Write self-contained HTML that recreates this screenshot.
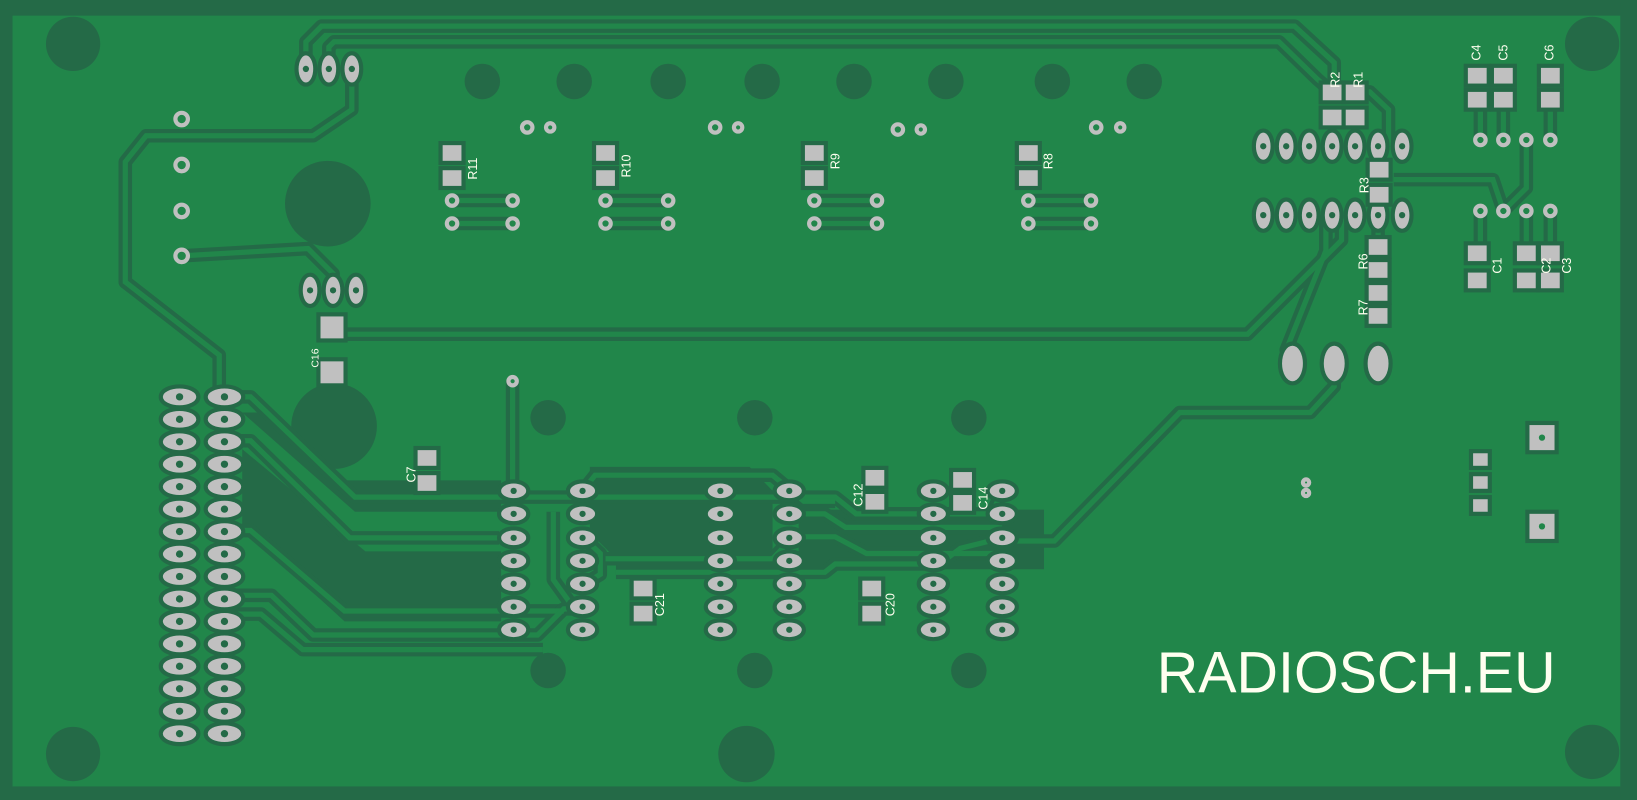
<!DOCTYPE html>
<html><head><meta charset="utf-8"><style>
html,body{margin:0;padding:0;background:#246a47;}
svg{display:block;}
text{font-family:"Liberation Sans",sans-serif;fill:#fffff0;}
.s{font-size:12px;}
</style></head><body>
<svg width="1637" height="800" viewBox="0 0 1568 766" preserveAspectRatio="none" xmlns="http://www.w3.org/2000/svg">
<defs>
<g id="tr">
<path d="M293,66 L293,40 L308,25 L1240,25 L1278,60 L1278,88"/>
<path d="M315,66 L315,45 L320,40 L1225,40 L1262,76 L1276,88"/>
<path d="M337,66 L337,105 L300,130 L140,130 L120,155 L120,270 L210,340 L210,380"/>
<path d="M174,245 L295,238 L319,262 L319,278"/>
<path d="M318,314 L318,320 L1195,320 L1285,230 L1285,206"/>
<path d="M1278,348 L1278,370 L1255,395 L1130,395 L1010,518 L960,518"/>
<path d="M491,365 L491,470"/>
<path d="M1298,88 L1312,88 L1330,105 L1330,140"/>
<path d="M1321,162 L1321,140"/>
<path d="M1335,172 L1430,172 L1440,202"/>
<path d="M1462,134 L1462,180 L1440,202"/>
<path d="M1418,134 L1418,95 M1440,134 L1440,95 M1485,134 L1485,95"/>
<path d="M1418,202 L1418,242 M1462,202 L1462,242 M1485,202 L1485,242"/>
<path d="M1320,206 L1320,236"/>
<path d="M1270,206 L1270,240 L1232,335 L1238,348"/>
<path d="M433,192 L491,192 M433,214 L491,214"/>
<path d="M580,192 L640,192 M580,214 L640,214"/>
<path d="M780,192 L840,192 M780,214 L840,214"/>
<path d="M985,192 L1045,192 M985,214 L1045,214"/>
<path d="M215,380 L240,380 L340,476 L800,476 L820,492 L950,492 L960,470"/>
<path d="M215,422 L240,422 L335,515 L478,515"/>
<path d="M215,508 L240,508 L330,585 L540,585"/>
<path d="M215,570 L260,570 L300,608 L515,608 L540,583 L558,583"/>
<path d="M215,588 L250,588 L290,622 L520,622"/>
<path d="M558,470 L570,455 L740,455 L770,480 L800,480"/>
<path d="M558,514 L575,530 L575,550 L558,560"/>
<path d="M530,490 L530,555 L548,580"/>
<path d="M580,535 L740,535 L760,514 L800,514 L830,530 L960,530"/>
<path d="M590,548 L790,548 L800,540 L900,540 L920,525 L960,515"/>
<path d="M756,492 L790,492 L810,505 L960,505"/>
</g>
<g id="op"><ellipse cx="0" cy="0" rx="16" ry="8" fill="#c0c0c0" stroke="#246a47" stroke-width="8" paint-order="stroke"/><circle r="3.5" fill="#246a47"/></g>
<g id="ip"><ellipse cx="0" cy="0" rx="12" ry="7" fill="#c0c0c0" stroke="#246a47" stroke-width="8" paint-order="stroke"/><circle r="3" fill="#246a47"/></g>
<g id="vp"><ellipse cx="0" cy="0" rx="7" ry="13" fill="#c0c0c0" stroke="#246a47" stroke-width="8" paint-order="stroke"/><circle r="3" fill="#246a47"/></g>
<g id="ic">
<use href="#ip" y="470"/><use href="#ip" y="492"/><use href="#ip" y="515"/><use href="#ip" y="537"/><use href="#ip" y="559"/><use href="#ip" y="581"/><use href="#ip" y="603"/>
</g>
<g id="hd">
<use href="#vp" x="1210"/><use href="#vp" x="1232"/><use href="#vp" x="1254"/><use href="#vp" x="1276"/><use href="#vp" x="1298"/><use href="#vp" x="1320"/><use href="#vp" x="1343"/>
</g>
<g id="row"><use href="#op" x="172"/><use href="#op" x="215"/></g>
</defs>
<rect x="0" y="0" width="1568" height="766" fill="#246a47"/>
<rect x="12" y="15" width="1540" height="738" fill="#21864a"/>
<g fill="#246a47">
<polygon points="232,430 350,528 480,528 480,595 330,595 232,505"/>
<polygon points="565,447 718,447 740,470 740,535 590,535 565,510"/>
<polygon points="765,488 1000,488 1000,545 765,545"/>
<polygon points="232,395 260,395 330,460 480,460 480,490 340,490 232,395"/>
</g>
<g fill="#246a47">
<circle cx="70" cy="42" r="26"/><circle cx="1525" cy="42" r="26"/>
<circle cx="70" cy="722" r="26"/><circle cx="1525" cy="720" r="26"/>
<circle cx="314" cy="195" r="41"/><circle cx="320" cy="408" r="41"/>
<circle cx="715" cy="722" r="27"/>
<circle cx="462" cy="78" r="17"/><circle cx="550" cy="78" r="17"/><circle cx="640" cy="78" r="17"/><circle cx="730" cy="78" r="17"/>
<circle cx="818" cy="78" r="17"/><circle cx="906" cy="78" r="17"/><circle cx="1008" cy="78" r="17"/><circle cx="1096" cy="78" r="17"/>
<circle cx="525" cy="400" r="17"/><circle cx="723" cy="400" r="17"/><circle cx="928" cy="400" r="17"/>
<circle cx="525" cy="642" r="17"/><circle cx="723" cy="642" r="17"/><circle cx="928" cy="642" r="17"/>
</g>
<use href="#tr" stroke="#246a47" stroke-width="13" fill="none" stroke-linejoin="round"/>
<use href="#tr" stroke="#21864a" stroke-width="5" fill="none"/>
<use href="#row" y="380"/><use href="#row" y="401.5"/><use href="#row" y="423"/><use href="#row" y="444.5"/>
<use href="#row" y="466"/><use href="#row" y="487.5"/><use href="#row" y="509"/><use href="#row" y="530.5"/>
<use href="#row" y="552"/><use href="#row" y="573.5"/><use href="#row" y="595"/><use href="#row" y="616.5"/>
<use href="#row" y="638"/><use href="#row" y="659.5"/><use href="#row" y="681"/><use href="#row" y="702.5"/>
<use href="#ic" x="492"/><use href="#ic" x="558"/><use href="#ic" x="690"/><use href="#ic" x="756"/><use href="#ic" x="894"/><use href="#ic" x="960"/>
<use href="#vp" x="293" y="66"/><use href="#vp" x="315" y="66"/><use href="#vp" x="337" y="66"/>
<use href="#vp" x="297" y="278"/><use href="#vp" x="319" y="278"/><use href="#vp" x="341" y="278"/>
<use href="#hd" y="140"/><use href="#hd" y="206"/>
<g fill="#c0c0c0" stroke="#246a47" stroke-width="8" paint-order="stroke">
<ellipse cx="1238" cy="348" rx="10" ry="17"/><ellipse cx="1278" cy="348" rx="10" ry="17"/><ellipse cx="1320" cy="348" rx="10" ry="17"/>
<rect x="1267" y="81" width="18" height="15"/><rect x="1289" y="81" width="18" height="15"/>
<rect x="1267" y="105" width="18" height="15"/><rect x="1289" y="105" width="18" height="15"/>
<rect x="1312" y="155" width="18" height="15"/><rect x="1312" y="179" width="18" height="15"/>
<rect x="1311" y="229" width="18" height="15"/><rect x="1311" y="251" width="18" height="15"/>
<rect x="1311" y="273" width="18" height="15"/><rect x="1311" y="295" width="18" height="15"/>
<rect x="1406" y="65" width="18" height="15"/><rect x="1431" y="65" width="18" height="15"/><rect x="1476" y="65" width="18" height="15"/>
<rect x="1406" y="88" width="18" height="15"/><rect x="1431" y="88" width="18" height="15"/><rect x="1476" y="88" width="18" height="15"/>
<rect x="1406" y="235" width="18" height="15"/><rect x="1453" y="235" width="18" height="15"/><rect x="1476" y="235" width="18" height="15"/>
<rect x="1406" y="261" width="18" height="15"/><rect x="1453" y="261" width="18" height="15"/><rect x="1476" y="261" width="18" height="15"/>
<rect x="424" y="139" width="18" height="15"/><rect x="424" y="163" width="18" height="15"/>
<rect x="571" y="139" width="18" height="15"/><rect x="571" y="163" width="18" height="15"/>
<rect x="771" y="139" width="18" height="15"/><rect x="771" y="163" width="18" height="15"/>
<rect x="976" y="139" width="18" height="15"/><rect x="976" y="163" width="18" height="15"/>
<rect x="307" y="303" width="22" height="21"/><rect x="307" y="346" width="22" height="21"/>
<rect x="400" y="431" width="18" height="15"/><rect x="400" y="455" width="18" height="15"/>
<rect x="829" y="450" width="18" height="15"/><rect x="829" y="473" width="18" height="15"/>
<rect x="913" y="452" width="18" height="15"/><rect x="913" y="474" width="18" height="15"/>
<rect x="607" y="556" width="18" height="15"/><rect x="607" y="580" width="18" height="15"/>
<rect x="826" y="556" width="18" height="15"/><rect x="826" y="580" width="18" height="15"/>
<rect x="1465" y="407" width="24" height="24"/><rect x="1465" y="492" width="24" height="24"/>
<rect x="1411" y="434" width="14" height="12"/><rect x="1411" y="456" width="14" height="12"/><rect x="1411" y="478" width="14" height="12"/>
</g>
<g fill="#21864a">
<circle cx="1477" cy="419" r="3"/><circle cx="1477" cy="504" r="3"/>
</g>
<g fill="#21864a" stroke="#c0c0c0" stroke-width="4">
<circle cx="174" cy="114" r="6"/><circle cx="174" cy="158" r="6"/><circle cx="174" cy="202" r="6"/><circle cx="174" cy="245" r="6"/>
<circle cx="433" cy="192" r="5"/><circle cx="491" cy="192" r="5"/><circle cx="433" cy="214" r="5"/><circle cx="491" cy="214" r="5"/>
<circle cx="580" cy="192" r="5"/><circle cx="640" cy="192" r="5"/><circle cx="580" cy="214" r="5"/><circle cx="640" cy="214" r="5"/>
<circle cx="780" cy="192" r="5"/><circle cx="840" cy="192" r="5"/><circle cx="780" cy="214" r="5"/><circle cx="840" cy="214" r="5"/>
<circle cx="985" cy="192" r="5"/><circle cx="1045" cy="192" r="5"/><circle cx="985" cy="214" r="5"/><circle cx="1045" cy="214" r="5"/>
<circle cx="1418" cy="134" r="5"/><circle cx="1440" cy="134" r="5"/><circle cx="1462" cy="134" r="5"/><circle cx="1485" cy="134" r="5"/>
<circle cx="1418" cy="202" r="5"/><circle cx="1440" cy="202" r="5"/><circle cx="1462" cy="202" r="5"/><circle cx="1485" cy="202" r="5"/>
<circle cx="505" cy="122" r="5"/><circle cx="527" cy="122" r="4"/>
<circle cx="685" cy="122" r="5"/><circle cx="707" cy="122" r="4"/>
<circle cx="860" cy="124" r="5"/><circle cx="882" cy="124" r="4"/>
<circle cx="1050" cy="122" r="5"/><circle cx="1073" cy="122" r="4"/>
<circle cx="491" cy="365" r="4"/>
<circle cx="1251" cy="462" r="3"/><circle cx="1251" cy="472" r="3"/>
</g>
<g class="s">
<text transform="translate(457,172) rotate(-90)">R11</text>
<text transform="translate(604,170) rotate(-90)">R10</text>
<text transform="translate(804,162) rotate(-90)">R9</text>
<text transform="translate(1008,162) rotate(-90)">R8</text>
<text transform="translate(1283,84) rotate(-90)">R2</text>
<text transform="translate(1305,84) rotate(-90)">R1</text>
<text transform="translate(1311,185) rotate(-90)">R3</text>
<text transform="translate(1310,258) rotate(-90)">R6</text>
<text transform="translate(1310,302) rotate(-90)">R7</text>
<text transform="translate(1418,58) rotate(-90)">C4</text>
<text transform="translate(1444,58) rotate(-90)">C5</text>
<text transform="translate(1488,58) rotate(-90)">C6</text>
<text transform="translate(1438,262) rotate(-90)">C1</text>
<text transform="translate(1485,262) rotate(-90)">C2</text>
<text transform="translate(1505,262) rotate(-90)">C3</text>
<text transform="translate(305,352) rotate(-90)" style="font-size:10px">C16</text>
<text transform="translate(398,462) rotate(-90)">C7</text>
<text transform="translate(826,485) rotate(-90)">C12</text>
<text transform="translate(946,488) rotate(-90)">C14</text>
<text transform="translate(636,590) rotate(-90)">C21</text>
<text transform="translate(857,590) rotate(-90)">C20</text>
</g>
<text x="1108" y="663" font-size="56" textLength="382" lengthAdjust="spacingAndGlyphs">RADIOSCH.EU</text>
</svg>
</body></html>
